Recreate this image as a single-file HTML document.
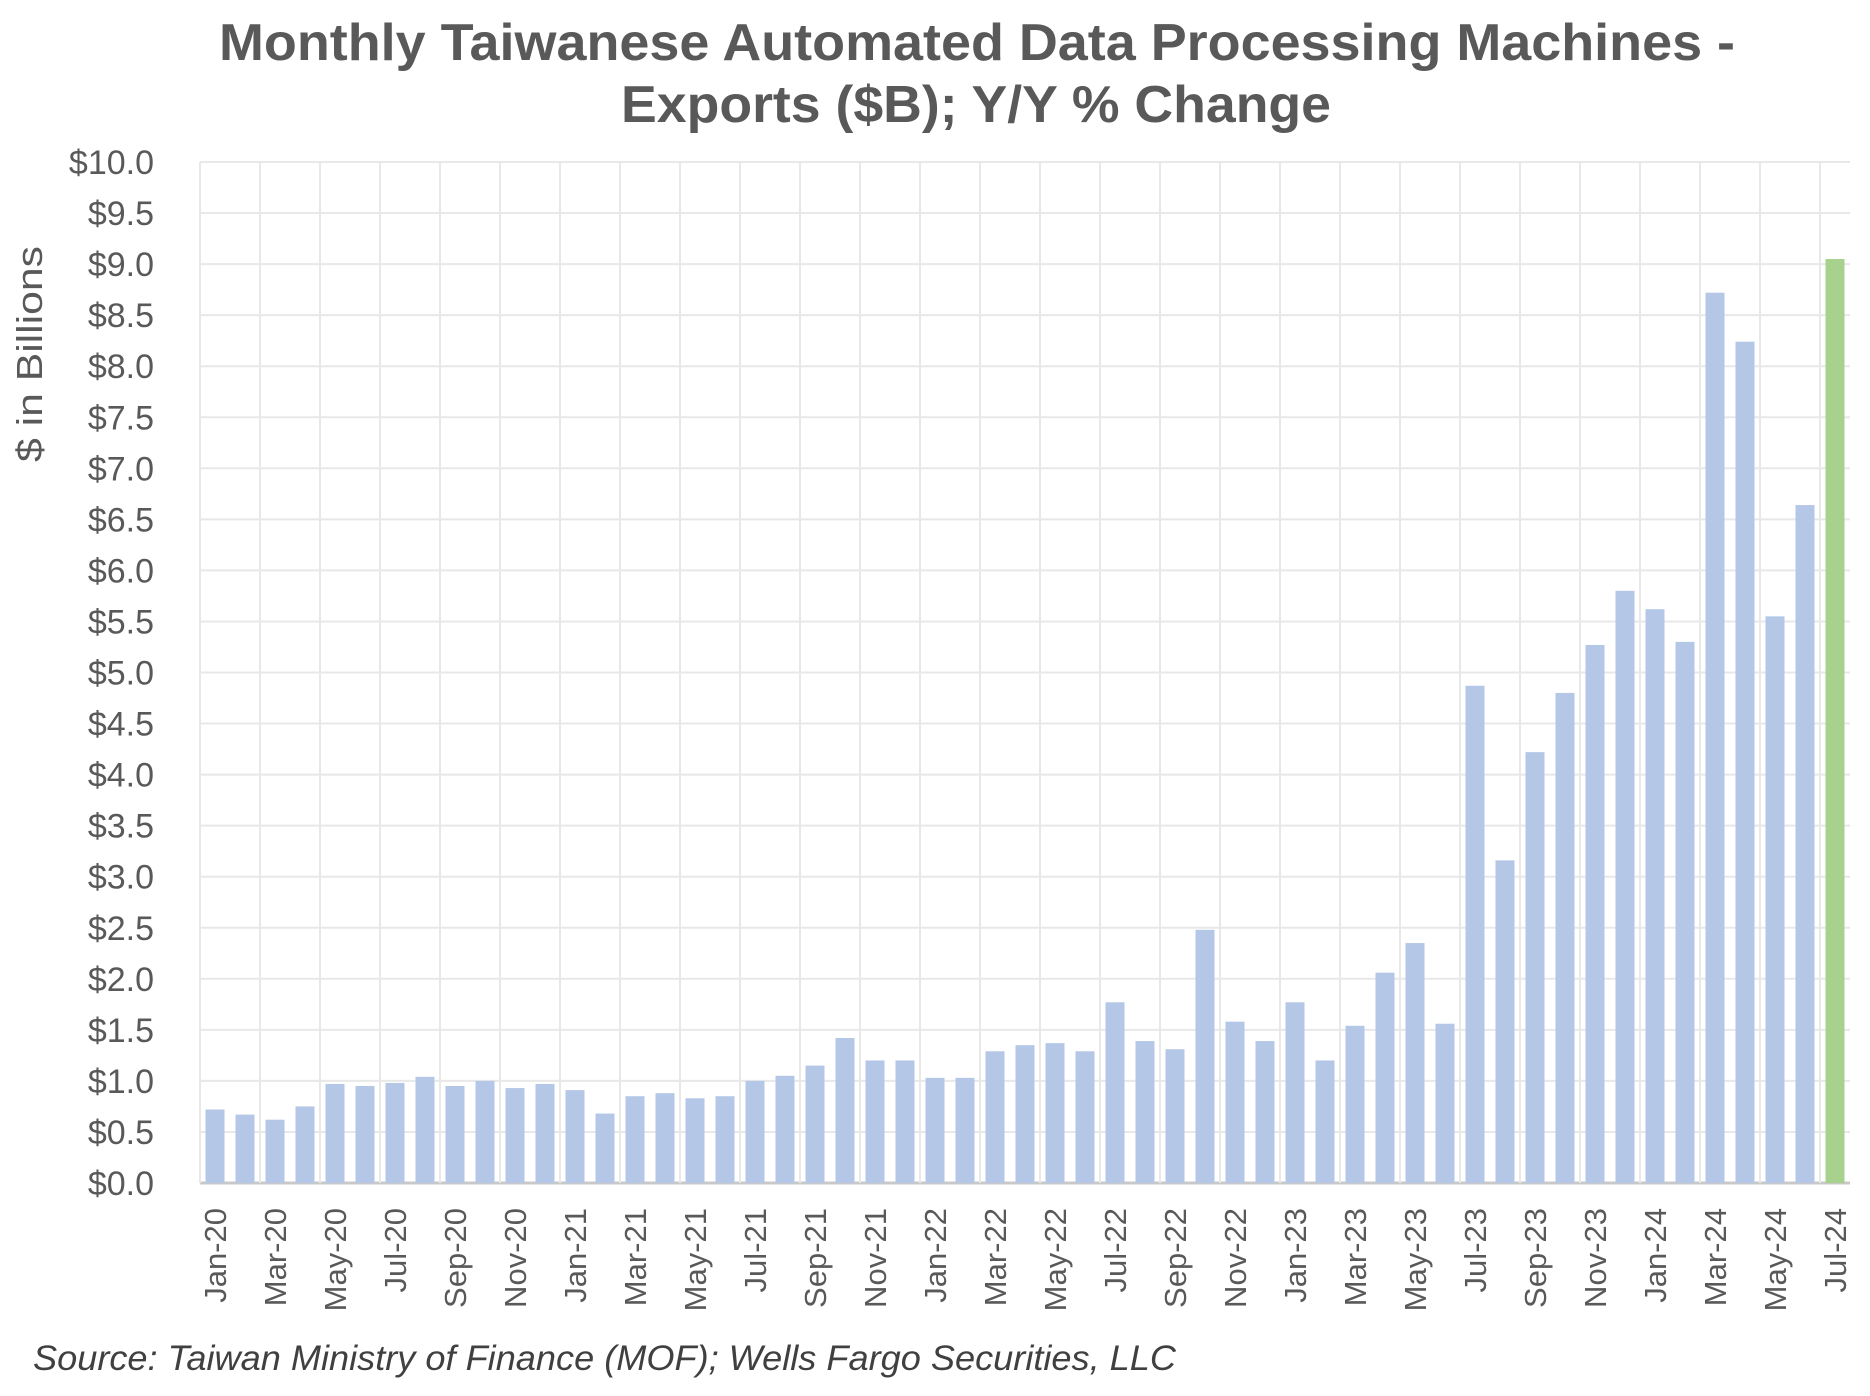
<!DOCTYPE html>
<html><head><meta charset="utf-8">
<style>
html,body{margin:0;padding:0;background:#fff;}
svg{display:block;font-family:"Liberation Sans",Arial,sans-serif;}
</style></head>
<body>
<svg id="chart" width="1870" height="1396" viewBox="0 0 1870 1396">
<text x="977" y="60" text-anchor="middle" font-size="52" font-weight="bold" fill="#595959" textLength="1516" lengthAdjust="spacingAndGlyphs">Monthly  Taiwanese Automated  Data Processing Machines -</text>
<text x="976" y="122" text-anchor="middle" font-size="52" font-weight="bold" fill="#595959" textLength="710" lengthAdjust="spacingAndGlyphs">Exports ($B); Y/Y %  Change</text>
<text transform="translate(42,354) rotate(-90)" text-anchor="middle" font-size="36" fill="#595959" textLength="216" lengthAdjust="spacingAndGlyphs">$ in Billions</text>
<g id="grid"></g>
<g id="bars"></g>
<g id="yticks"></g>
<g id="xticks"></g>
<text x="33" y="1370" font-size="35" font-style="italic" fill="#404040" textLength="1143" lengthAdjust="spacingAndGlyphs">Source: Taiwan Ministry of Finance (MOF); Wells Fargo Securities, LLC</text>
</svg>
<script>
const months = ["Jan","Feb","Mar","Apr","May","Jun","Jul","Aug","Sep","Oct","Nov","Dec"];
const startYear = 20;
const values = [0.72,0.67,0.62,0.75,0.97,0.95,0.98,1.04,0.95,1.0,0.93,0.97,
0.91,0.68,0.85,0.88,0.83,0.85,1.0,1.05,1.15,1.42,1.2,1.2,
1.03,1.03,1.29,1.35,1.37,1.29,1.77,1.39,1.31,2.48,1.58,1.39,
1.77,1.2,1.54,2.06,2.35,1.56,4.87,3.16,4.22,4.8,5.27,5.8,
5.62,5.3,8.72,8.24,5.55,6.64,9.05];
const yTicks = [0,0.5,1,1.5,2,2.5,3,3.5,4,4.5,5,5.5,6,6.5,7,7.5,8,8.5,9,9.5,10];
const categories = values.map((v,i)=>months[i%12]+"-"+(startYear+Math.floor(i/12)));

const NS="http://www.w3.org/2000/svg";
const L=200,R=1850,T=162,B=1183,yMax=10;
const n=categories.length, cw=(R-L)/n, bw=19;
const y=v=>B-(v/yMax)*(B-T);
const x=i=>L+cw*(i+0.5);
function mk(tag,attrs,parent){const e=document.createElementNS(NS,tag);for(const k in attrs)e.setAttribute(k,attrs[k]);parent.appendChild(e);return e;}
const grid=document.getElementById('grid'),bars=document.getElementById('bars'),yt=document.getElementById('yticks'),xt=document.getElementById('xticks');
yTicks.forEach(t=>{
  const ln=mk('line',{x1:L,x2:R,y1:y(t),y2:y(t),stroke:t===0?'#c8c8c8':'#e8e8e8','stroke-width':t===0?3:2},grid);
  
  
  const tx=mk('text',{x:154,y:y(t)+12,'text-anchor':'end','font-size':34,fill:'#595959'},yt);
  tx.textContent='$'+t.toFixed(1);
  
  
});
for(let i=0;i<=n;i+=2){
  const xx=L+cw*i;
  const ln=mk('line',{x1:xx,x2:xx,y1:T,y2:B,stroke:'#e8e8e8','stroke-width':2},grid);
  
  
}
values.forEach((v,i)=>{
  const r=mk('rect',{x:x(i)-bw/2,y:y(v),width:bw,height:B-y(v),fill:i===n-1?'#a9d18e':'#b4c7e7'},bars);
  
  
  if(i%2===0){
    const tx=mk('text',{transform:`translate(${x(i)+11},1208) rotate(-90)`,'text-anchor':'end','font-size':31,fill:'#595959'},xt);
    tx.textContent=categories[i];
    
    
  }
});
</script>
</body></html>
